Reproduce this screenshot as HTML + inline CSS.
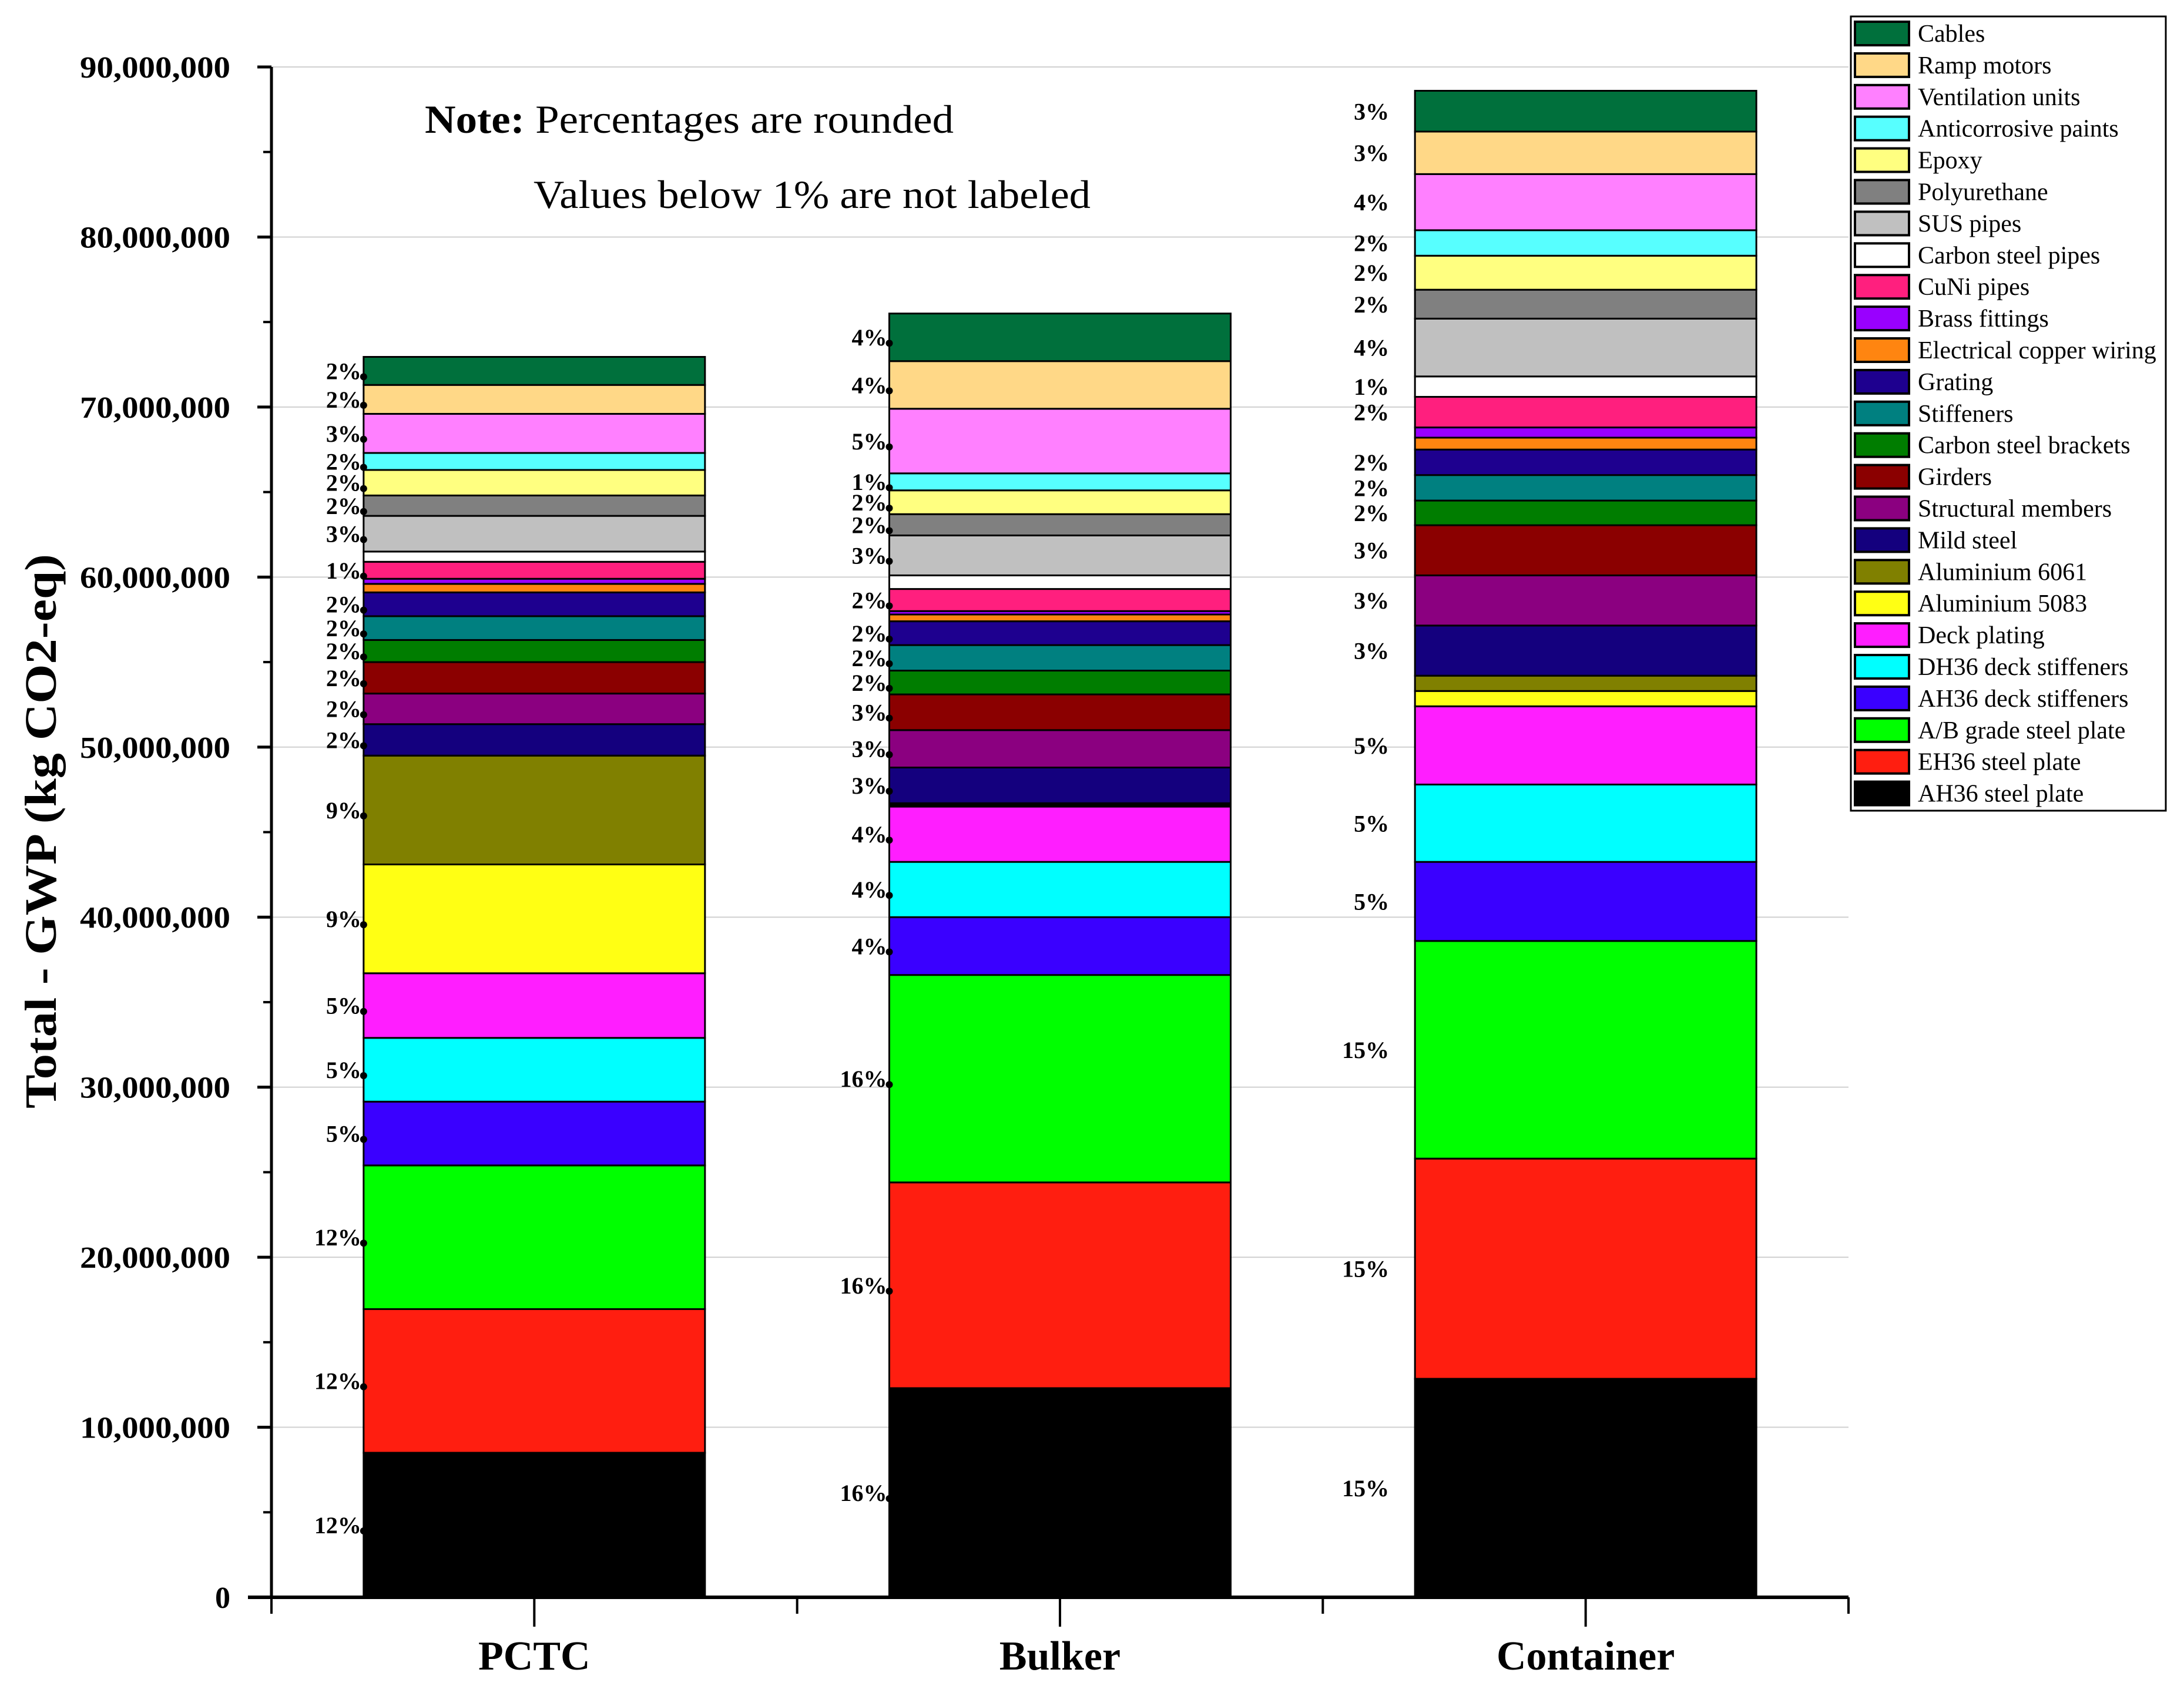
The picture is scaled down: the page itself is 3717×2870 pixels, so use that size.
<!DOCTYPE html>
<html><head><meta charset="utf-8"><style>
html,body{margin:0;padding:0;background:#fff}
svg{display:block}
text{font-family:"Liberation Serif",serif}
</style></head><body>
<svg id="chart" width="3717" height="2870" viewBox="0 0 3717 2870" xmlns="http://www.w3.org/2000/svg">
<rect width="3717" height="2870" fill="#fff"/>
<g id="grid"></g><g id="bars"></g><g id="axes"></g><g id="labels"></g><g id="legend"></g>
<text x="723" y="226" font-size="68" textLength="900" lengthAdjust="spacingAndGlyphs"><tspan font-weight="bold">Note:</tspan> Percentages are rounded</text>
<text x="908" y="354" font-size="68" textLength="948" lengthAdjust="spacingAndGlyphs">Values below 1% are not labeled</text>
<text transform="translate(95,1415) rotate(-90)" font-size="76" font-weight="bold" text-anchor="middle" textLength="944" lengthAdjust="spacingAndGlyphs">Total - GWP (kg CO2-eq)</text>
</svg>
<script>
const categories = ["PCTC","Bulker","Container"];
const seriesNames = ["AH36 steel plate","EH36 steel plate","A/B grade steel plate","AH36 deck stiffeners","DH36 deck stiffeners","Deck plating","Aluminium 5083","Aluminium 6061","Mild steel","Structural members","Girders","Carbon steel brackets","Stiffeners","Grating","Electrical copper wiring","Brass fittings","CuNi pipes","Carbon steel pipes","SUS pipes","Polyurethane","Epoxy","Anticorrosive paints","Ventilation units","Ramp motors","Cables"];
const seriesColors = ["#000000","#ff1e10","#00ff00","#3a00ff","#00ffff","#ff1eff","#ffff14","#808000","#14007e","#8b0080","#8b0000","#007d00","#008080","#1e008f","#ff8510","#9900ff","#ff1f7e","#ffffff","#c0c0c0","#808080","#ffff80","#57ffff","#ff80ff","#ffd887","#00703c"];
// values in millions kg CO2-eq, bottom to top
const pctcValues = [8.5,8.45,8.45,3.75,3.75,3.8,6.4,6.4,1.85,1.8,1.85,1.3,1.4,1.4,0.5,0.3,1.0,0.6,2.1,1.2,1.5,1.0,2.3,1.7,1.65];
const bulkerValues = [12.3,12.1,12.2,3.4,3.25,3.25,0.1,0.1,2.1,2.2,2.1,1.4,1.5,1.4,0.4,0.2,1.3,0.8,2.35,1.25,1.4,1.0,3.8,2.8,2.8];
const containerValues = [12.85,12.95,12.8,4.65,4.55,4.6,0.9,0.9,2.95,2.95,2.95,1.45,1.5,1.5,0.7,0.6,1.8,1.2,3.4,1.7,2.0,1.5,3.3,2.5,2.4];
const pctcLabels = ["12%","12%","12%","5%","5%","5%","9%","9%","2%","2%","2%","2%","2%","2%","","","1%","","3%","2%","2%","2%","3%","2%","2%"];
const bulkerLabels = ["16%","16%","16%","4%","4%","4%","","","3%","3%","3%","2%","2%","2%","","","2%","","3%","2%","2%","1%","5%","4%","4%"];
const containerLabels = ["15%","15%","15%","5%","5%","5%","","","3%","3%","3%","2%","2%","2%","","","2%","1%","4%","2%","2%","2%","4%","3%","3%"];
const yTicks = [0,10,20,30,40,50,60,70,80,90];
const yTickLabels = ["0","10,000,000","20,000,000","30,000,000","40,000,000","50,000,000","60,000,000","70,000,000","80,000,000","90,000,000"];

const allValues=[pctcValues,bulkerValues,containerValues];
const allLabels=[pctcLabels,bulkerLabels,containerLabels];
const NS="http://www.w3.org/2000/svg";
const X0=462,X1=3146,Y0=2719,Y90=114;
const y=v=>Y0-(v/90)*(Y0-Y90);
const catW=(X1-X0)/3, barW=581;
const xc=i=>X0+catW*(i+0.5);
function mk(tag,attrs,parent){const e=document.createElementNS(NS,tag);for(const k in attrs)e.setAttribute(k,attrs[k]);parent.appendChild(e);return e;}
const grid=document.getElementById('grid'),bars=document.getElementById('bars'),axes=document.getElementById('axes'),labels=document.getElementById('labels'),legend=document.getElementById('legend');
yTicks.forEach((t,i)=>{
  if(t>0){const g=mk('line',{x1:X0,x2:X1,y1:y(t),y2:y(t),stroke:'#d0d0d0','stroke-width':2},grid);
  
  }
  const tk=mk('line',{x1:X0-24,x2:X0,y1:y(t),y2:y(t),stroke:'#000','stroke-width':5},axes);
  
  
  if(i<yTicks.length-1){const m=mk('line',{x1:X0-14,x2:X0,y1:y(t+5),y2:y(t+5),stroke:'#000','stroke-width':4},axes);
  
  }
  const attrs={x:X0-70,y:y(t)+18,'font-size':52,'font-weight':'bold','text-anchor':'end'};
  if(i>0){attrs.textLength=256;attrs.lengthAdjust='spacingAndGlyphs';}
  const tl=mk('text',attrs,axes);
  tl.textContent=yTickLabels[i];
  
  
});
categories.forEach((c,ci)=>{
  let cum=0;const left=xc(ci)-barW/2;
  allValues[ci].forEach((v,si)=>{
    const r=mk('rect',{x:left,y:y(cum+v),width:barW,height:y(cum)-y(cum+v),fill:seriesColors[si],stroke:'#000','stroke-width':3},bars);
    
    
    const lab=allLabels[ci][si];
    if(lab){const mid=y(cum+v/2);
      const lx=ci<2?left-4:left-44;
      const t=mk('text',{x:lx,y:mid+14,'font-size':40,'font-weight':'bold','text-anchor':'end'},labels);
      t.textContent=lab;
      
      
      if(ci<2){const d=mk('circle',{cx:left,cy:mid+10,r:6,fill:'#000'},labels);
      
      }
    }
    cum+=v;
  });
  const tk=mk('line',{x1:xc(ci),x2:xc(ci),y1:Y0,y2:Y0+50,stroke:'#000','stroke-width':4},axes);
  
  
  const xl=mk('text',{x:xc(ci),y:2842,'font-size':70,'font-weight':'bold','text-anchor':'middle'},axes);
  xl.textContent=c;
  
  
});
for(let i=0;i<=3;i++){const m=mk('line',{x1:X0+catW*i,x2:X0+catW*i,y1:Y0,y2:Y0+28,stroke:'#000','stroke-width':4},axes);

}
const ya=mk('line',{x1:X0,x2:X0,y1:Y90,y2:Y0,stroke:'#000','stroke-width':5},axes);


const xa=mk('line',{x1:X0-40,x2:X1,y1:Y0,y2:Y0,stroke:'#000','stroke-width':6},axes);


// legend
const lb=mk('rect',{x:3150,y:28,width:536,height:1352,fill:'#fff',stroke:'#000','stroke-width':3},legend);


for(let k=0;k<25;k++){
  const si=24-k;const cy=57+k*53.9;
  const s=mk('rect',{x:3157,y:cy-20,width:92,height:40,fill:seriesColors[si],stroke:'#000','stroke-width':4},legend);
  
  
  const t=mk('text',{x:3264,y:cy+14,'font-size':42},legend);
  t.textContent=seriesNames[si];
  
  
}
</script>
</body></html>
